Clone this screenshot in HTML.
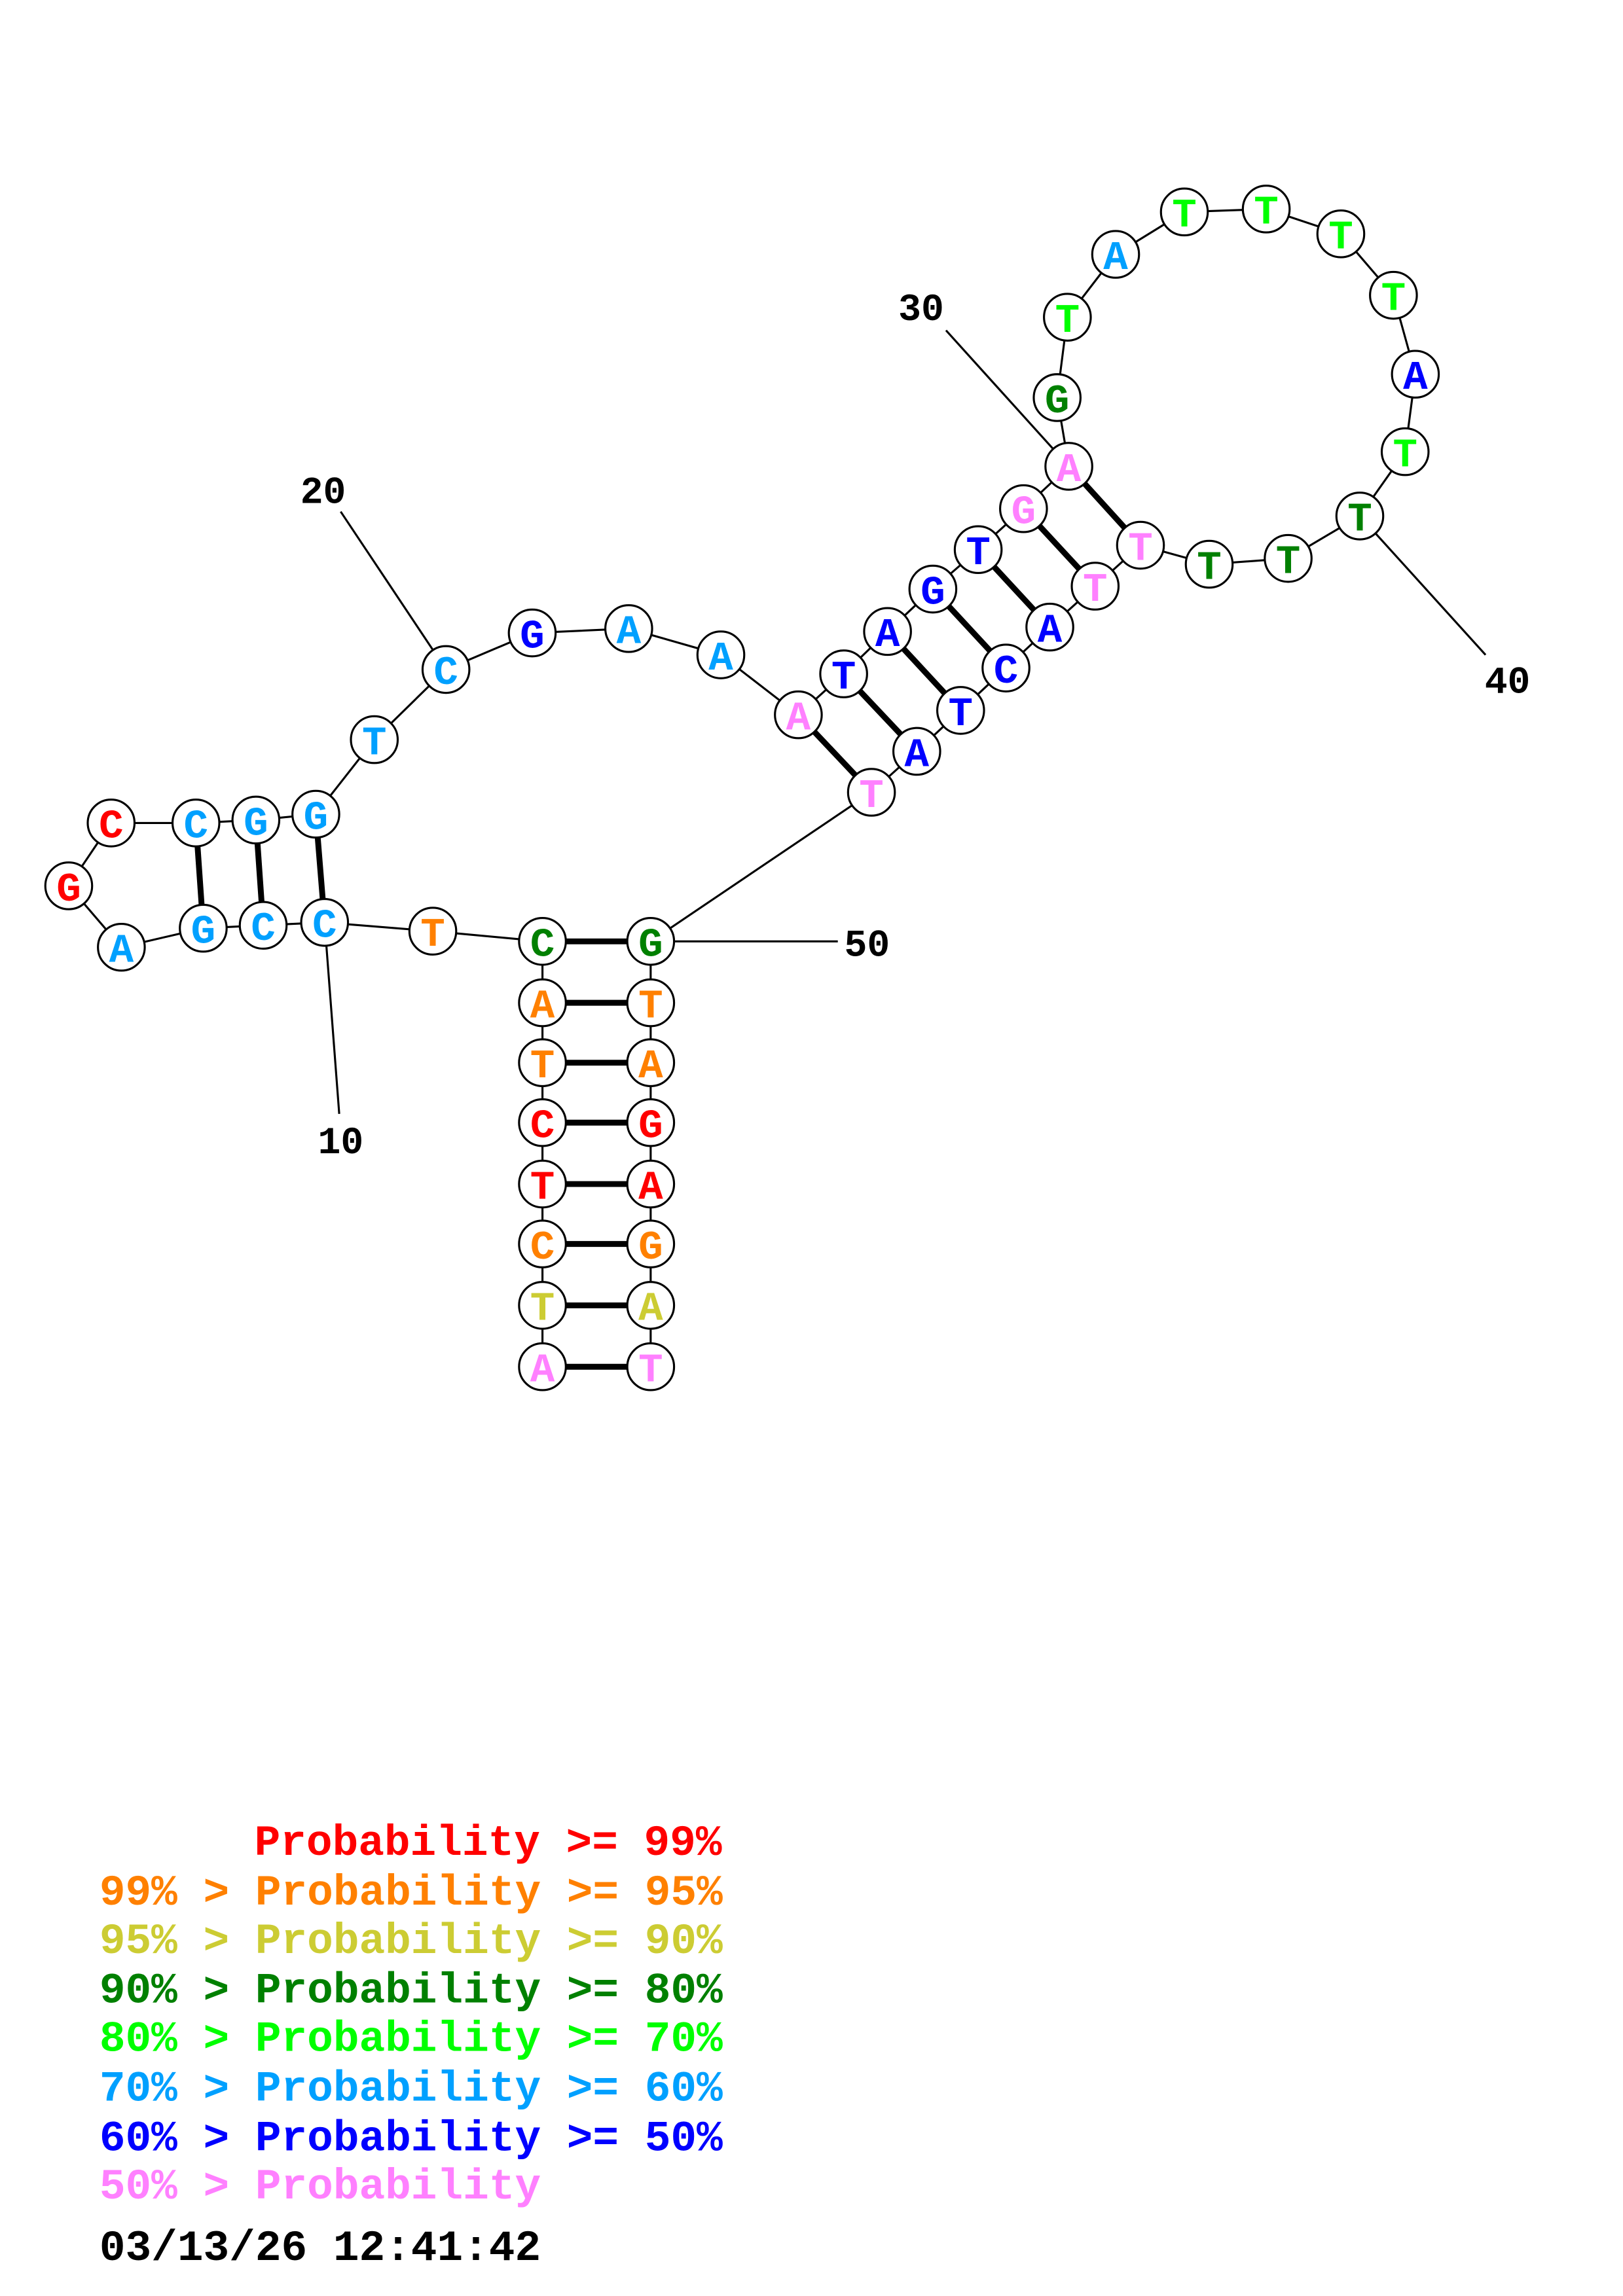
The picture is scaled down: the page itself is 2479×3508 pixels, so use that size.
<!DOCTYPE html>
<html><head><meta charset="utf-8"><style>
html,body{margin:0;padding:0;background:#fff;width:2479px;height:3508px;overflow:hidden}
svg{display:block}
.n text{font-family:"Liberation Mono",monospace;font-weight:bold;font-size:28px;text-anchor:middle}
.lg text{font-family:"Liberation Mono",monospace;font-weight:bold;font-size:29.6px;white-space:pre}
.lb{font-family:"Liberation Mono",monospace;font-weight:bold;font-size:26px;text-anchor:middle}
</style></head><body>
<svg width="2479" height="3508" viewBox="0 0 1110 1570.7" preserveAspectRatio="none" xmlns="http://www.w3.org/2000/svg">
<g stroke="#000" stroke-width="1.4" fill="none">
<polyline points="371,935 371,893 371,851 371,810 371,768 371,727 371,686 371,644 296,637 222,631 180,633 139,635 83,648 47,606 76,563 134,563 175,561 216,557 256,506 305,458 364,433 430,430 493,448 546,489 577,461 607,432 638,403 669,376 700,348 731,319 723,272 730,217 763,174 810,145 866,143 917,160 953,202 968,256 961,309 930,353 881,382 827,386 780,373 749,401 718,429 688,457 657,486 627,514 596,542 445,644 445,686 445,727 445,768 445,810 445,851 445,893 445,935"/>
<line x1="222" y1="631" x2="232" y2="762"/>
<line x1="305" y1="458" x2="233" y2="350"/>
<line x1="731" y1="319" x2="647" y2="226"/>
<line x1="930" y1="353" x2="1016" y2="448"/>
<line x1="445" y1="644" x2="573" y2="644"/>
</g>
<g stroke="#000" stroke-width="4">
<line x1="371" y1="644" x2="445" y2="644"/><line x1="371" y1="686" x2="445" y2="686"/>
<line x1="371" y1="727" x2="445" y2="727"/><line x1="371" y1="768" x2="445" y2="768"/>
<line x1="371" y1="810" x2="445" y2="810"/><line x1="371" y1="851" x2="445" y2="851"/>
<line x1="371" y1="893" x2="445" y2="893"/><line x1="371" y1="935" x2="445" y2="935"/>
<line x1="222" y1="631" x2="216" y2="557"/><line x1="180" y1="633" x2="175" y2="561"/><line x1="139" y1="635" x2="134" y2="563"/>
<line x1="546" y1="489" x2="596" y2="542"/><line x1="577" y1="461" x2="627" y2="514"/>
<line x1="607" y1="432" x2="657" y2="486"/><line x1="638" y1="403" x2="688" y2="457"/>
<line x1="669" y1="376" x2="718" y2="429"/><line x1="700" y1="348" x2="749" y2="401"/>
<line x1="731" y1="319" x2="780" y2="373"/>
</g>
<g class="n" stroke-width="1.4">
<g fill="#fff" stroke="#000">
<circle cx="371" cy="935" r="16"/><circle cx="371" cy="893" r="16"/><circle cx="371" cy="851" r="16"/><circle cx="371" cy="810" r="16"/><circle cx="371" cy="768" r="16"/><circle cx="371" cy="727" r="16"/><circle cx="371" cy="686" r="16"/><circle cx="371" cy="644" r="16"/><circle cx="296" cy="637" r="16"/><circle cx="222" cy="631" r="16"/><circle cx="180" cy="633" r="16"/><circle cx="139" cy="635" r="16"/><circle cx="83" cy="648" r="16"/><circle cx="47" cy="606" r="16"/><circle cx="76" cy="563" r="16"/><circle cx="134" cy="563" r="16"/><circle cx="175" cy="561" r="16"/><circle cx="216" cy="557" r="16"/><circle cx="256" cy="506" r="16"/><circle cx="305" cy="458" r="16"/><circle cx="364" cy="433" r="16"/><circle cx="430" cy="430" r="16"/><circle cx="493" cy="448" r="16"/><circle cx="546" cy="489" r="16"/><circle cx="577" cy="461" r="16"/><circle cx="607" cy="432" r="16"/><circle cx="638" cy="403" r="16"/><circle cx="669" cy="376" r="16"/><circle cx="700" cy="348" r="16"/><circle cx="731" cy="319" r="16"/><circle cx="723" cy="272" r="16"/><circle cx="730" cy="217" r="16"/><circle cx="763" cy="174" r="16"/><circle cx="810" cy="145" r="16"/><circle cx="866" cy="143" r="16"/><circle cx="917" cy="160" r="16"/><circle cx="953" cy="202" r="16"/><circle cx="968" cy="256" r="16"/><circle cx="961" cy="309" r="16"/><circle cx="930" cy="353" r="16"/><circle cx="881" cy="382" r="16"/><circle cx="827" cy="386" r="16"/><circle cx="780" cy="373" r="16"/><circle cx="749" cy="401" r="16"/><circle cx="718" cy="429" r="16"/><circle cx="688" cy="457" r="16"/><circle cx="657" cy="486" r="16"/><circle cx="627" cy="514" r="16"/><circle cx="596" cy="542" r="16"/><circle cx="445" cy="644" r="16"/><circle cx="445" cy="686" r="16"/><circle cx="445" cy="727" r="16"/><circle cx="445" cy="768" r="16"/><circle cx="445" cy="810" r="16"/><circle cx="445" cy="851" r="16"/><circle cx="445" cy="893" r="16"/><circle cx="445" cy="935" r="16"/>
</g>
<text x="371" y="945" fill="#ff80ff">A</text><text x="371" y="903" fill="#cccc33">T</text><text x="371" y="861" fill="#ff8000">C</text><text x="371" y="820" fill="#ff0000">T</text><text x="371" y="778" fill="#ff0000">C</text><text x="371" y="737" fill="#ff8000">T</text><text x="371" y="696" fill="#ff8000">A</text><text x="371" y="654" fill="#008000">C</text><text x="296" y="647" fill="#ff8000">T</text><text x="222" y="641" fill="#00a0ff">C</text><text x="180" y="643" fill="#00a0ff">C</text><text x="139" y="645" fill="#00a0ff">G</text><text x="83" y="658" fill="#00a0ff">A</text><text x="47" y="616" fill="#ff0000">G</text><text x="76" y="573" fill="#ff0000">C</text><text x="134" y="573" fill="#00a0ff">C</text><text x="175" y="571" fill="#00a0ff">G</text><text x="216" y="567" fill="#00a0ff">G</text><text x="256" y="516" fill="#00a0ff">T</text><text x="305" y="468" fill="#00a0ff">C</text><text x="364" y="443" fill="#0000ff">G</text><text x="430" y="440" fill="#00a0ff">A</text><text x="493" y="458" fill="#00a0ff">A</text><text x="546" y="499" fill="#ff80ff">A</text><text x="577" y="471" fill="#0000ff">T</text><text x="607" y="442" fill="#0000ff">A</text><text x="638" y="413" fill="#0000ff">G</text><text x="669" y="386" fill="#0000ff">T</text><text x="700" y="358" fill="#ff80ff">G</text><text x="731" y="329" fill="#ff80ff">A</text><text x="723" y="282" fill="#008000">G</text><text x="730" y="227" fill="#00ff00">T</text><text x="763" y="184" fill="#00a0ff">A</text><text x="810" y="155" fill="#00ff00">T</text><text x="866" y="153" fill="#00ff00">T</text><text x="917" y="170" fill="#00ff00">T</text><text x="953" y="212" fill="#00ff00">T</text><text x="968" y="266" fill="#0000ff">A</text><text x="961" y="319" fill="#00ff00">T</text><text x="930" y="363" fill="#008000">T</text><text x="881" y="392" fill="#008000">T</text><text x="827" y="396" fill="#008000">T</text><text x="780" y="383" fill="#ff80ff">T</text><text x="749" y="411" fill="#ff80ff">T</text><text x="718" y="439" fill="#0000ff">A</text><text x="688" y="467" fill="#0000ff">C</text><text x="657" y="496" fill="#0000ff">T</text><text x="627" y="524" fill="#0000ff">A</text><text x="596" y="552" fill="#ff80ff">T</text><text x="445" y="654" fill="#008000">G</text><text x="445" y="696" fill="#ff8000">T</text><text x="445" y="737" fill="#ff8000">A</text><text x="445" y="778" fill="#ff0000">G</text><text x="445" y="820" fill="#ff0000">A</text><text x="445" y="861" fill="#ff8000">G</text><text x="445" y="903" fill="#cccc33">A</text><text x="445" y="945" fill="#ff80ff">T</text>
</g>
<g fill="#000">
<text class="lb" x="233" y="789">10</text>
<text class="lb" x="221" y="344">20</text>
<text class="lb" x="630" y="219">30</text>
<text class="lb" x="1031" y="474">40</text>
<text class="lb" x="593" y="654">50</text>
</g>
<g class="lg">
<text x="174" y="1269" fill="#ff0000">Probability &gt;= 99%</text>
<text x="68" y="1303" fill="#ff8000">99% &gt; Probability &gt;= 95%</text>
<text x="68" y="1336" fill="#cccc33">95% &gt; Probability &gt;= 90%</text>
<text x="68" y="1370" fill="#008000">90% &gt; Probability &gt;= 80%</text>
<text x="68" y="1403" fill="#00ff00">80% &gt; Probability &gt;= 70%</text>
<text x="68" y="1437" fill="#00a0ff">70% &gt; Probability &gt;= 60%</text>
<text x="68" y="1471" fill="#0000ff">60% &gt; Probability &gt;= 50%</text>
<text x="68" y="1504" fill="#ff80ff">50% &gt; Probability</text>
<text x="68" y="1546" fill="#000">03/13/26 12:41:42</text>
</g>
</svg>
</body></html>
